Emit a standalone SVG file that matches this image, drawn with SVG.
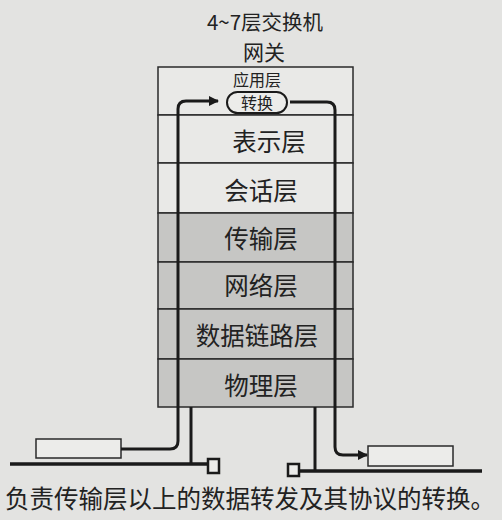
<svg xmlns="http://www.w3.org/2000/svg" width="502" height="520" viewBox="0 0 502 520">
<style>
text{font-family:"Noto Sans CJK SC","Noto Sans",sans-serif;fill:#222;text-anchor:middle}
.lbl{font-size:24.5px}
.light{fill:#e9e9e7;stroke:#2a2a2a;stroke-width:1.5}
.dark{fill:#c6c6c4;stroke:#2a2a2a;stroke-width:1.5}
.wire{fill:none;stroke:#1a1a1a;stroke-width:3}
.bus{fill:none;stroke:#1a1a1a;stroke-width:3.5}
.host{fill:#ececea;stroke:#2a2a2a;stroke-width:1.5}
.port{fill:#ececea;stroke:#1a1a1a;stroke-width:2.5}
</style>
<defs>
<marker id="ah" viewBox="0 0 10 10" refX="9" refY="5" markerWidth="10" markerHeight="10" markerUnits="userSpaceOnUse" orient="auto">
<path d="M0,0 L10,5 L0,10 Z" fill="#1a1a1a"/>
</marker>
</defs>
<rect width="502" height="520" fill="#e3e3e1"/>
<g id="title">
<text x="265" y="30" style="font-size:20.5px">4~7层交换机</text>
<text x="264" y="60" style="font-size:21px">网关</text>
</g>
<g id="layer-application">
<rect class="light" x="158" y="67" width="195" height="48"/>
<text x="257" y="86" style="font-size:16px">应用层</text>
</g>
<g id="convert">
<rect x="227" y="92" width="60" height="21" rx="10.5" fill="#ececea" stroke="#1a1a1a" stroke-width="2"/>
<text x="257" y="109" style="font-size:16px">转换</text>
</g>
<g id="layer-presentation">
<rect class="light" x="158" y="115" width="195" height="48"/>
<text class="lbl" x="269" y="151">表示层</text>
</g>
<g id="layer-session">
<rect class="light" x="158" y="163" width="195" height="50"/>
<text class="lbl" x="261" y="200">会话层</text>
</g>
<g id="layer-transport">
<rect class="dark" x="158" y="213" width="195" height="49"/>
<text class="lbl" x="261" y="248">传输层</text>
</g>
<g id="layer-network">
<rect class="dark" x="158" y="262" width="195" height="47"/>
<text class="lbl" x="261" y="295">网络层</text>
</g>
<g id="layer-datalink">
<rect class="dark" x="158" y="309" width="195" height="50"/>
<text class="lbl" x="257" y="345">数据链路层</text>
</g>
<g id="layer-physical">
<rect class="dark" x="158" y="359" width="195" height="48"/>
<text class="lbl" x="261" y="395">物理层</text>
</g>
<g id="host-left">
<rect class="host" x="36" y="439" width="85" height="19"/>
</g>
<g id="host-right">
<rect class="host" x="368" y="446" width="85" height="20"/>
</g>
<g id="connectors">
<path class="wire" d="M121,449 H170 Q178,449 178,441 V109 Q178,101 186,101 H218" marker-end="url(#ah)"/>
<path class="wire" d="M290,102 H327 Q335,102 335,110 V447 Q335,455 343,455 H367" marker-end="url(#ah)"/>
<path class="wire" d="M191,407 V464"/>
<path class="wire" d="M315,407 V471"/>
<path class="bus" d="M10,464 H208"/>
<path class="bus" d="M299,471 H482"/>
<rect class="port" x="208" y="459" width="11" height="14"/>
<rect class="port" x="288" y="464" width="11" height="12"/>
</g>
<g id="caption">
<text x="250" y="508" style="font-size:24.5px">负责传输层以上的数据转发及其协议的转换。</text>
</g>
</svg>
